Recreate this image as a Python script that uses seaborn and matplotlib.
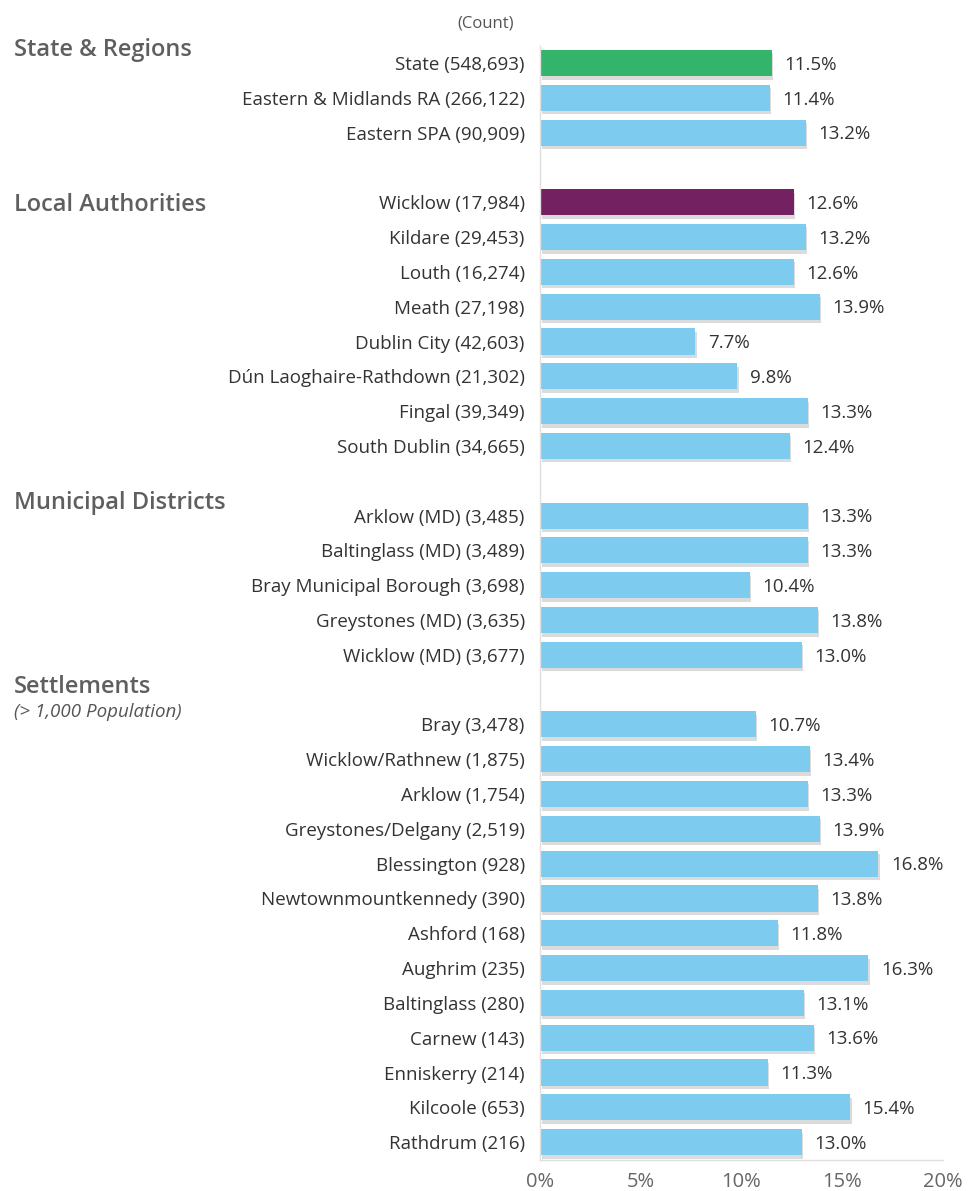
"""
Horizontal bars by area group, with counts in the labels
"""

from matplotlib import pyplot as plt
from matplotlib import patheffects
import pandas as pd
import seaborn as sns

groups = ["State & Regions", "Local Authorities", "Municipal Districts", "Settlements"]

state_labels = ["State (548,693)", "Eastern & Midlands RA (266,122)", "Eastern SPA (90,909)"]
state_values = [11.5, 11.4, 13.2]

la_labels = ["Wicklow (17,984)", "Kildare (29,453)", "Louth (16,274)", "Meath (27,198)",
             "Dublin City (42,603)", "Dún Laoghaire-Rathdown (21,302)",
             "Fingal (39,349)", "South Dublin (34,665)"]
la_values = [12.6, 13.2, 12.6, 13.9, 7.7, 9.8, 13.3, 12.4]

md_labels = ["Arklow (MD) (3,485)", "Baltinglass (MD) (3,489)",
             "Bray Municipal Borough (3,698)", "Greystones (MD) (3,635)",
             "Wicklow (MD) (3,677)"]
md_values = [13.3, 13.3, 10.4, 13.8, 13.0]

settlement_labels = ["Bray (3,478)", "Wicklow/Rathnew (1,875)", "Arklow (1,754)",
                     "Greystones/Delgany (2,519)", "Blessington (928)",
                     "Newtownmountkennedy (390)", "Ashford (168)", "Aughrim (235)",
                     "Baltinglass (280)", "Carnew (143)", "Enniskerry (214)",
                     "Kilcoole (653)", "Rathdrum (216)"]
settlement_values = [10.7, 13.4, 13.3, 13.9, 16.8, 13.8, 11.8, 16.3, 13.1, 13.6,
                     11.3, 15.4, 13.0]

x_ticks = [0, 5, 10, 15, 20]

GREEN = "#34b36b"
BLUE = "#7dcbee"
PURPLE = "#732160"
TEXT = "#333333"
HEAD = "#5f5f5f"
FONT = "Open Sans"

# one empty slot between groups
rows = []
pos = 0
for g, labels, values in zip(groups,
                             [state_labels, la_labels, md_labels, settlement_labels],
                             [state_values, la_values, md_values, settlement_values]):
    for lab, val in zip(labels, values):
        rows.append({"label": lab, "value": val, "pos": pos, "kind": "other"})
        pos += 1
    pos += 1
rows[0]["kind"] = "state"
rows[len(state_labels)]["kind"] = "wicklow"
df = pd.DataFrame(rows)

sns.set_style("white")
plt.rcParams["font.family"] = [FONT, "DejaVu Sans"]

fig = plt.figure(figsize=(9.68, 11.91), dpi=100)
ax = fig.add_axes([0.558, 0.0264, 0.416, 0.9353])

sns.barplot(
    data=df, x="value", y="pos", hue="kind", orient="h", native_scale=True,
    dodge=False, width=0.75, legend=False, ax=ax, linewidth=0,
    palette={"state": GREEN, "wicklow": PURPLE, "other": BLUE},
    saturation=1,
)
for patch in ax.patches:
    patch.set_edgecolor("none")
    patch.set_path_effects([
        patheffects.SimplePatchShadow(offset=(1, -2.5), shadow_rgbFace="#888888", alpha=0.3),
        patheffects.Normal(),
    ])

for _, r in df.iterrows():
    ax.text(r["value"] + 0.62, r["pos"] + 0.05, f"{r['value']:.1f}%", va="center",
            ha="left", fontsize=13.5, color=TEXT)

ax.set_ylim(pos - 1.5, -0.5)
ax.set_xlim(0, 20)
ax.set_yticks(df["pos"])
ax.set_yticklabels(df["label"], fontsize=13.5, color=TEXT)
ax.set_xticks(x_ticks)
ax.set_xticklabels([f"{t}%" for t in x_ticks], fontsize=14.5, color="#666666")
ax.tick_params(axis="y", length=0, pad=11)
ax.tick_params(axis="x", length=0, pad=9)
ax.set_xlabel("")
ax.set_ylabel("")
for side in ["top", "right"]:
    ax.spines[side].set_visible(False)
for side in ["left", "bottom"]:
    ax.spines[side].set_color("#e0e0e0")
    ax.spines[side].set_linewidth(1)


def fy(px):
    return 1 - px / 1191


fig.text(486 / 968, fy(23), "(Count)", ha="center", va="center", fontsize=12, color="#555555")
head_y = {"State & Regions": 50, "Local Authorities": 205,
          "Municipal Districts": 503, "Settlements": 687}
for g in groups:
    fig.text(14 / 968, fy(head_y[g]), g, ha="left", va="center", fontsize=17,
             fontweight="semibold", color=HEAD)
fig.text(14 / 968, fy(712), "(> 1,000 Population)", ha="left", va="center",
         fontsize=13.5, style="italic", color="#555555")

fig.savefig("out.png", dpi=100)
